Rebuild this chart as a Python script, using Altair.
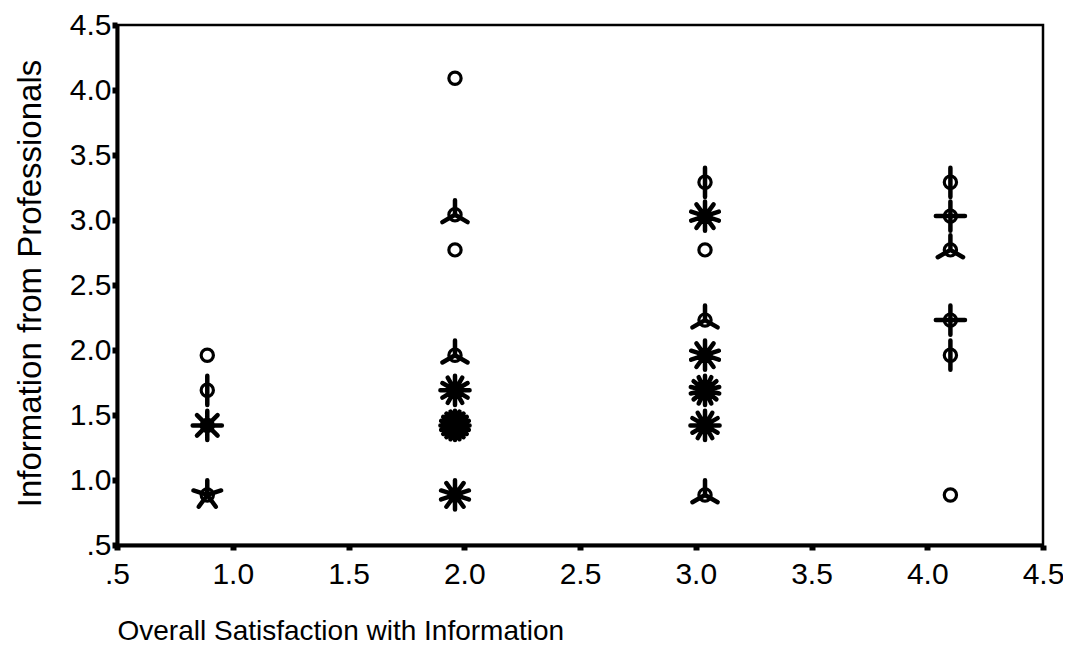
import math
import altair as alt
import pandas as pd

# Sunflower plot data: category centres and number of cases (petals)
x_vals = [0.89, 0.89, 0.89, 0.89,
          1.96, 1.96, 1.96, 1.96, 1.96, 1.96, 1.96,
          3.04, 3.04, 3.04, 3.04, 3.04, 3.04, 3.04, 3.04,
          4.10, 4.10, 4.10, 4.10, 4.10, 4.10]
y_vals = [1.96, 1.69, 1.42, 0.885,
          4.09, 3.04, 2.77, 1.96, 1.69, 1.42, 0.885,
          3.29, 3.03, 2.77, 2.23, 1.96, 1.69, 1.42, 0.885,
          3.29, 3.03, 2.77, 2.23, 1.96, 0.885]
counts = [1, 2, 8, 5,
          1, 3, 1, 3, 12, 20, 10,
          2, 10, 1, 3, 10, 14, 12, 3,
          2, 4, 3, 4, 2, 1]

tick_vals = [0.5, 1.0, 1.5, 2.0, 2.5, 3.0, 3.5, 4.0, 4.5]


def petal_path(n):
    if n < 2:
        return "M0,0"
    parts = []
    for k in range(n):
        a = -math.pi / 2 + 2 * math.pi * k / n
        parts.append(f"M0,0L{math.cos(a):.3f},{math.sin(a):.3f}")
    return "".join(parts)


df = pd.DataFrame({"x": x_vals, "y": y_vals, "n": counts})
df["path"] = [petal_path(n) for n in counts]

FONT = "Liberation Sans"
label_expr = "datum.value == 0.5 ? '.5' : format(datum.value, '.1f')"

xscale = alt.Scale(domain=[0.5, 4.5], nice=False, zero=False)
yscale = alt.Scale(domain=[0.5, 4.5], nice=False, zero=False)

xaxis = alt.Axis(values=tick_vals, labelExpr=label_expr, grid=False,
                 title="Overall Satisfaction with Information",
                 titleAnchor="start", titleAlign="left", titleX=0, titleY=86,
                 titleBaseline="middle", titleFontSize=28, titleFontWeight="normal",
                 titleFont=FONT, labelFont=FONT, labelFontSize=30, labelColor="black",
                 titleColor="black", domainColor="black", domainWidth=4,
                 tickColor="black", tickWidth=6, tickSize=5, labelPadding=9,
                 labelFlush=False, labelOverlap=False)
yaxis = alt.Axis(values=tick_vals, labelExpr=label_expr, grid=False,
                 title="Information from Professionals",
                 titleFontSize=33, titleFontWeight="normal", titleFont=FONT,
                 titleX=-87, titleY=258, titleAlign="center", titleBaseline="middle",
                 labelFont=FONT, labelFontSize=30, labelColor="black",
                 titleColor="black", domainColor="black", domainWidth=4,
                 tickColor="black", tickWidth=6, tickSize=5, labelPadding=1,
                 labelFlush=False, labelOverlap=False)

base = alt.Chart(df)

petals = base.transform_filter("datum.n > 1").mark_point(
    filled=False, stroke="black", strokeWidth=4.5, strokeCap="round", opacity=1
).encode(
    x=alt.X("x:Q", scale=xscale, axis=xaxis),
    y=alt.Y("y:Q", scale=yscale, axis=yaxis),
    shape=alt.Shape("path:N", scale=None),
    size=alt.value(850),
)

centres = base.mark_point(
    shape="circle", filled=False, stroke="black", strokeWidth=3.2, opacity=1
).encode(
    x=alt.X("x:Q", scale=xscale),
    y=alt.Y("y:Q", scale=yscale),
    size=alt.value(150),
)

chart = alt.layer(petals, centres).properties(
    width=926, height=520,
    autosize=alt.AutoSizeParams(type="none"),
    padding={"left": 109, "top": 17, "right": 20, "bottom": 100},
).configure_view(stroke="black", strokeWidth=2.5)

chart.save("out.html", embed_options={"renderer": "svg", "actions": False})
